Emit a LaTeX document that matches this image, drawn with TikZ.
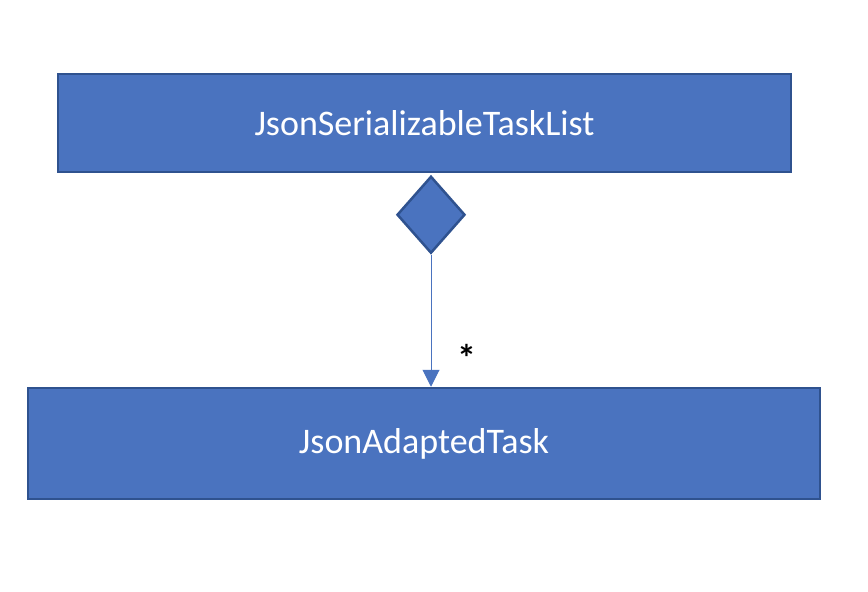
\documentclass[tikz,border=0pt]{standalone}
\usepackage{fontspec}
\setmainfont{Carlito}
\usetikzlibrary{shapes.geometric, arrows.meta}

\definecolor{officeblue}{HTML}{4A73BF}
\definecolor{officeedge}{HTML}{2F528F}

\tikzset{
	classbox/.style = {draw = officeedge, fill = officeblue, line width = 2.5pt,
		text = white, font = \fontsize{36}{42}\selectfont, inner sep = 0pt},
	aggr/.style = {diamond, draw = officeedge, fill = officeblue, line width = 2.5pt,
		inner sep = 0pt, minimum width = 68pt, minimum height = 77pt}
}

\begin{document}
\begin{tikzpicture}[x = 1pt, y = -1pt]

	\useasboundingbox (0, 0) rectangle (868, 592);

	\node[classbox, minimum width = 733pt, minimum height = 98pt] (tasklist) at (424.5, 123) {JsonSerializableTaskList};
	\node[classbox, minimum width = 792pt, minimum height = 111pt] (adapted) at (424, 443.5) {JsonAdaptedTask};

	\node[aggr, anchor = north] (agg) at (431, 175) {};

	\draw[officeblue, line width = 1pt, -{Triangle[width = 17pt, length = 17pt]}] (agg.south) -- (adapted.north -| agg.south);
	\node[font = \fontsize{38}{44}\selectfont\bfseries] (mult) at (467, 358) {*};

\end{tikzpicture}
\end{document}
